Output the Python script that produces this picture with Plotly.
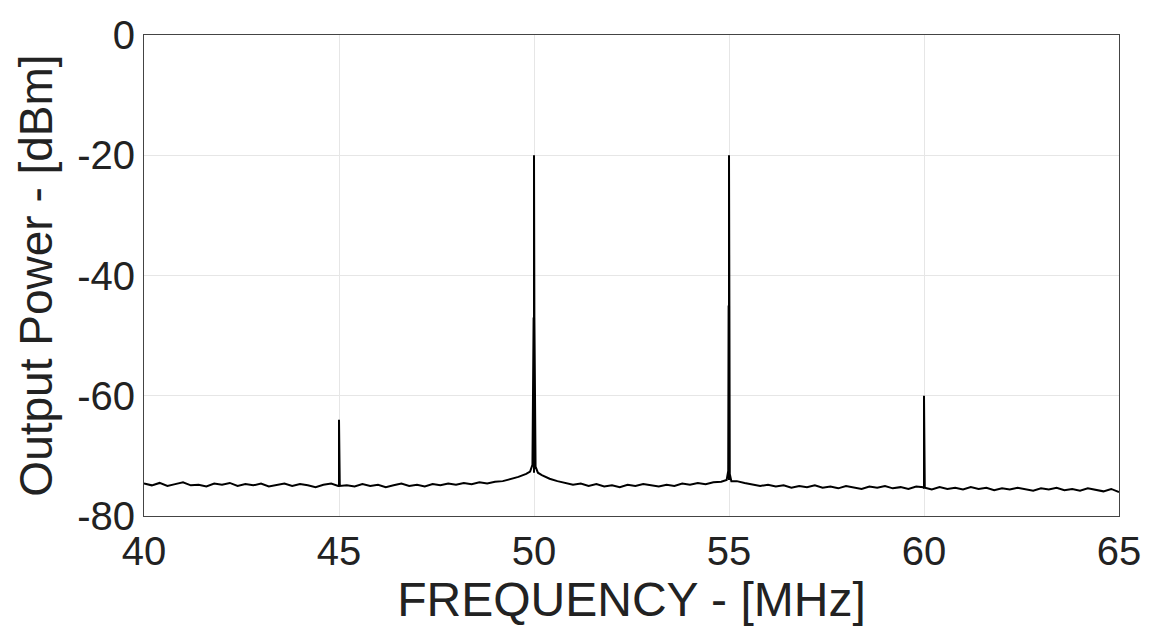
import numpy as np
import plotly.graph_objects as go

floor_start, floor_step = 40.0, 0.2
floor_dbm = [
 -74.6,-74.9,-74.5,-75.0,-74.7,-74.4,-74.9,-74.8,-75.1,-74.6,   # 40-41.8
 -74.8,-74.5,-75.0,-74.7,-74.9,-74.6,-75.1,-74.8,-74.6,-75.0,   # 42-43.8
 -74.7,-74.9,-75.2,-74.8,-74.6,-75.0,-74.9,-75.1,-74.7,-75.0,   # 44-45.8
 -74.8,-75.2,-74.9,-74.6,-75.0,-74.8,-75.1,-74.7,-74.9,-74.6,   # 46-47.8
 -74.8,-74.5,-74.7,-74.4,-74.6,-74.3,-74.2,-73.9,-73.5,-73.0,   # 48-49.8
 -72.8,-73.2,-73.8,-74.2,-74.5,-74.8,-74.6,-75.0,-74.7,-75.1,   # 50-51.8
 -74.9,-75.2,-74.8,-75.0,-74.7,-74.9,-75.1,-74.8,-75.0,-74.6,   # 52-53.8
 -74.8,-74.5,-74.7,-74.4,-74.3,-74.0,-74.2,-74.5,-74.7,-75.0,   # 54-55.8
 -74.8,-75.1,-74.9,-75.3,-75.0,-75.2,-74.9,-75.3,-75.1,-75.4,   # 56-57.8
 -75.0,-75.2,-75.5,-75.1,-75.3,-75.0,-75.4,-75.2,-75.5,-75.1,   # 58-59.8
 -75.4,-75.6,-75.2,-75.5,-75.3,-75.6,-75.2,-75.5,-75.3,-75.7,   # 60-61.8
 -75.4,-75.6,-75.3,-75.5,-75.8,-75.4,-75.6,-75.3,-75.7,-75.5,   # 62-63.8
 -75.8,-75.4,-75.6,-75.9,-75.5,-76.0,                           # 64-65
]

# spectral lines (frequency MHz, level dBm)
peak_freq = [44.98, 45.0, 45.02,
             49.9, 49.96, 49.99, 50.0, 50.01, 50.04, 50.1,
             54.94, 54.98, 54.99, 55.0, 55.01, 55.02, 55.06,
             59.98, 60.0, 60.02]
peak_dbm = [-75.0, -64.0, -75.0,
            -72.6, -71.5, -47.0, -20.0, -47.0, -71.8, -72.8,
            -74.0, -72.5, -45.0, -20.0, -45.0, -73.0, -74.2,
            -75.2, -60.0, -75.3]

x_ticks = [40, 45, 50, 55, 60, 65]
y_ticks = [-80, -60, -40, -20, 0]

floor_freq = [round(floor_start + i * floor_step, 3) for i in range(len(floor_dbm))]
freq = np.array(floor_freq + peak_freq)
dbm = np.array(floor_dbm + peak_dbm)
order = np.argsort(freq, kind="stable")
freq, dbm = freq[order], dbm[order]

fig = go.Figure(go.Scatter(x=freq, y=dbm, mode="lines",
                           line=dict(color="black", width=2)))
font = "Liberation Sans, Arial, sans-serif"
ax = dict(showline=True, linecolor="#444", linewidth=1, mirror=True,
          showgrid=True, gridcolor="#e6e6e6", zeroline=False, ticks="",
          automargin=False,
          tickfont=dict(size=40, color="#222", family=font))
fig.update_layout(
    width=1156, height=640, plot_bgcolor="white", paper_bgcolor="white",
    margin=dict(l=136, r=45, t=27, b=132), showlegend=False,
    xaxis=dict(ax, range=[40, 65], tickvals=x_ticks, ticktext=[str(v) for v in x_ticks],
               title=dict(text="FREQUENCY - [MHz]", font=dict(size=48, color="#222", family=font), standoff=8)),
    yaxis=dict(ax, range=[-80, 0], tickvals=y_ticks, ticktext=[str(v) for v in y_ticks],
               title=dict(text="Output Power - [dBm]", font=dict(size=46, color="#222", family=font), standoff=10)),
)
fig.write_html("out.html")
